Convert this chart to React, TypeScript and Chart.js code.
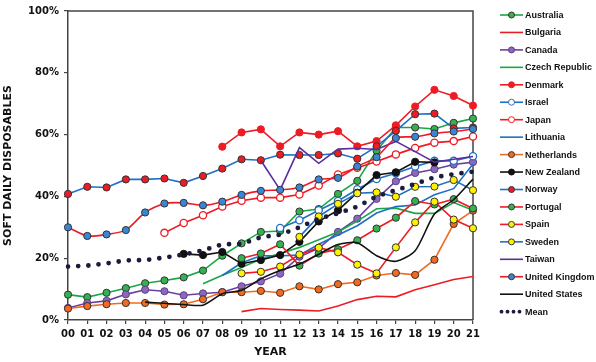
import React, { useEffect, useRef } from 'react';
import { Chart, registerables } from 'chart.js';

Chart.register(...registerables);

const years = ['00','01','02','03','04','05','06','07','08','09','10','11','12','13','14','15','16','17','18','19','20','21'];
const yTicks = [0, 20, 40, 60, 80, 100];

const N = null;
const australia = [8.2, 7.4, 8.8, 10.3, 11.9, 12.8, 13.8, 16, 20.8, 24.8, 28.5, 28.8, 35.1, 35.9, 40.8, 45, 54.8, 62.3, 62.3, 61.8, 63.8, 65.2];
const bulgaria = [N, N, N, N, N, N, N, N, N, 2.7, 3.7, 3.4, 3.2, 2.9, 4.5, 6.6, 7.7, 7.5, 9.8, 11.4, 13.1, 14.1];
const canada = [3.9, 5.5, 6.2, 8.3, 9.8, 9.3, 8, 8.6, 9, 10.9, 12.5, 15, 20.5, 23.2, 28.5, 32.8, 39.2, 44.9, 47.6, 48.8, 50.3, 51.1];
const czech = [N, N, N, N, N, N, N, 11.7, 14.5, 17, 19.7, 21.5, 23.5, 26, 28.5, 32, 36, 36.2, 34.5, 34.5, 38, 35.5];
const denmark = [N, N, N, N, N, N, N, N, 56.1, 60.7, 61.7, 56.2, 60.7, 60, 61.1, 56.2, 57.9, 63, 69.1, 74.5, 72.5, 69.4];
const israel = [N, N, N, N, N, N, N, N, N, N, N, 29.8, 32.3, 35.5, 38.5, 42.3, 45.6, 47.5, 49.7, 51.5, 51.5, 53];
const japan = [N, N, N, N, N, 28.2, 31.4, 33.9, 36.7, 38.6, 39.6, 39.6, 40.6, 43.5, 47.1, 49.3, 51.3, 53.6, 55.7, 57.4, 57.9, 59.4];
const lithuania = [N, N, N, N, N, N, N, N, 14.4, 18.5, 20.8, 20.8, 21, 24.5, 27.5, 30.5, 34.6, 36.7, 37.2, 40.5, 42.5, 50.5];
const netherlands = [3.7, 4.5, 5.1, 5.5, 5.5, 5, 5.1, 6.7, 9, 9, 9.4, 8.8, 10.9, 9.9, 11.6, 12.2, 14.4, 15.2, 14.6, 19.5, 31.1, 35.4];
const newZealand = [N, N, N, N, N, N, 21.4, 21, 22, 18.2, 19.4, 21, 25.3, 31.9, 35.5, 41.2, 46.9, 47.8, 51.2, 51, N, N];
const norway = [40.8, 43.1, 42.9, 45.5, 45.5, 45.8, 44.4, 46.6, 49, 52, 51.7, 53.5, 53.4, 53.4, 53.9, 52.2, 56.2, 61.2, 66.6, 66.8, 62, 62.3];
const portugal = [N, N, N, N, N, N, N, N, N, 20, 21.5, 24.5, 17.6, 21.5, 22.9, 25.8, 29.6, 33.1, 38.5, 37.4, 39.1, 36.1];
const spain = [N, N, N, N, N, N, N, N, N, 15.1, 15.6, 17.3, 21.2, 23.4, 21.9, 17.9, 15.1, 23.5, 31.6, 38.3, 32.5, 29.7];
const sweden = [N, N, N, N, N, N, N, N, N, N, N, N, 26.9, 33.5, 37.6, 41, 41.3, 39.9, 43.1, 43.2, 45.3, 42];
const taiwan = [N, N, N, N, N, N, N, N, N, N, 51.6, 42.1, 55.8, 50.7, 55.3, 55.6, 55.2, 57.8, 54.5, 51.1, 52, 52.9];
const unitedKingdom = [30, 27.2, 27.7, 29.1, 34.8, 37.7, 37.9, 37.1, 38.3, 40.5, 41.8, 42.1, 42.9, 45.5, 46, 49.7, 52.7, 58.9, 59.3, 60.4, 61, 61.8];
const unitedStates = [N, N, N, N, 5.8, 5.4, 5, 4.8, 8.5, 9.6, 13.3, 16, 18.1, 21.3, 24.4, 25, 20.8, 19, 22.4, 34.3, 39, 45.6];
const mean = [17.3, 17.6, 18.3, 19.3, 19.4, 20.2, 21.2, 22.5, 24.5, 24.6, 26.8, 27.6, 30, 32.8, 34.5, 36.7, 40, 42, 44, 46.2, 47.2, 48];

const RED = '#ed1c24';
const GREEN_LINE = '#17a844';
const GREEN_FILL = '#33b34f';
const BLUE = '#1f6fc5';
const BLUE_FILL = '#3a86d6';
const PURPLE_LINE = '#6b3fa0';
const PURPLE_FILL = '#8b68bb';
const TAIWAN = '#5c2d9b';
const ORANGE = '#f26a21';
const YELLOW = '#fff200';
const BLACK = '#111111';
const MEAN = '#1d1b3a';
const EDGE = '#333333';
const WHITE = '#ffffff';

type Spec = { label: string; data: (number | null)[]; line: string; fill?: string; edge?: string; dots?: boolean; tension?: number };

const specs: Spec[] = [
  { label: 'Australia', data: australia, line: GREEN_LINE, fill: GREEN_FILL, edge: EDGE },
  { label: 'Bulgaria', data: bulgaria, line: RED },
  { label: 'Canada', data: canada, line: PURPLE_LINE, fill: PURPLE_FILL, edge: '#5a3d85' },
  { label: 'Czech Republic', data: czech, line: GREEN_LINE },
  { label: 'Denmark', data: denmark, line: RED, fill: RED, edge: RED },
  { label: 'Israel', data: israel, line: BLUE, fill: WHITE, edge: BLUE },
  { label: 'Japan', data: japan, line: RED, fill: WHITE, edge: RED },
  { label: 'Lithuania', data: lithuania, line: BLUE },
  { label: 'Netherlands', data: netherlands, line: ORANGE, fill: ORANGE, edge: EDGE },
  { label: 'New Zealand', data: newZealand, line: BLACK, fill: BLACK, edge: BLACK },
  { label: 'Norway', data: norway, line: BLUE, fill: RED, edge: EDGE },
  { label: 'Portugal', data: portugal, line: RED, fill: GREEN_FILL, edge: EDGE },
  { label: 'Spain', data: spain, line: RED, fill: YELLOW, edge: EDGE },
  { label: 'Sweden', data: sweden, line: BLUE, fill: YELLOW, edge: EDGE },
  { label: 'Taiwan', data: taiwan, line: TAIWAN },
  { label: 'United Kingdom', data: unitedKingdom, line: RED, fill: BLUE_FILL, edge: EDGE, tension: 0.25 },
  { label: 'United States', data: unitedStates, line: BLACK, tension: 0.25 },
  { label: 'Mean', data: mean, line: MEAN, dots: true },
];

const BOLD_FONT = '"DejaVu Sans", Verdana, sans-serif';

const frame = {
  id: 'frame',
  beforeDatasetsDraw(chart: any) {
    const { ctx, chartArea: a } = chart;
    ctx.save();
    ctx.strokeStyle = '#444';
    ctx.lineWidth = 1.5;
    ctx.beginPath();
    ctx.moveTo(a.left, a.top);
    ctx.lineTo(a.right, a.top);
    ctx.lineTo(a.right, a.bottom);
    ctx.stroke();
    ctx.restore();
  },
};

const legendPlugin = {
  id: 'sideLegend',
  afterDraw(chart: any) {
    const ctx = chart.ctx;
    ctx.save();
    const x0 = 500, x1 = 523, mx = 511.5, tx = 525;
    const y0 = 15, dy = 17.45;
    specs.forEach((s, i) => {
      const y = y0 + i * dy;
      if (s.dots) {
        ctx.fillStyle = MEAN;
        [501.5, 507.5, 513.5, 519.5].forEach((dx) => {
          ctx.beginPath();
          ctx.arc(dx, y, 1.9, 0, Math.PI * 2);
          ctx.fill();
        });
      } else {
        ctx.strokeStyle = s.line;
        ctx.lineWidth = 1.6;
        ctx.beginPath();
        ctx.moveTo(x0, y);
        ctx.lineTo(x1, y);
        ctx.stroke();
        if (s.fill) {
          ctx.beginPath();
          ctx.arc(mx, y, 3, 0, Math.PI * 2);
          ctx.fillStyle = s.fill;
          ctx.fill();
          ctx.lineWidth = 1;
          ctx.strokeStyle = s.edge || EDGE;
          ctx.stroke();
        }
      }
      ctx.fillStyle = '#111';
      ctx.font = 'bold 9px "Liberation Sans", Arial, sans-serif';
      ctx.textBaseline = 'middle';
      ctx.textAlign = 'left';
      ctx.fillText(s.label, tx, y + 0.5);
    });
    ctx.restore();
  },
};

export default function App() {
  const ref = useRef<HTMLCanvasElement | null>(null);

  useEffect(() => {
    if (!ref.current) return;
    const n = specs.length;
    const datasets = specs.map((s, i) => {
      if (s.dots) {
        return {
          label: s.label,
          data: s.data,
          borderColor: MEAN,
          borderWidth: 4.8,
          borderDash: [0, 10.2],
          borderCapStyle: 'round',
          pointRadius: 0,
          fill: false,
          order: n - i,
        };
      }
      return {
        label: s.label,
        data: s.data,
        borderColor: s.line,
        borderWidth: 1.6,
        tension: s.tension || 0,
        pointRadius: s.fill ? 3.6 : 0,
        pointBackgroundColor: s.fill || s.line,
        pointBorderColor: s.edge || EDGE,
        pointBorderWidth: s.fill === WHITE ? 1.3 : 1,
        fill: false,
        spanGaps: false,
        order: n - i,
      };
    });

    const chart = new Chart(ref.current, {
      type: 'line',
      data: { labels: years, datasets: datasets as any },
      options: {
        animation: false,
        responsive: false,
        maintainAspectRatio: false,
        layout: { padding: { left: 0, top: 7, right: 123, bottom: 0 } },
        plugins: { legend: { display: false }, tooltip: { enabled: false } },
        scales: {
          x: {
            type: 'category',
            offset: false,
            grid: { display: true, drawOnChartArea: false, drawTicks: true, tickLength: 4, color: '#444', lineWidth: 1.2 },
            border: { display: true, color: '#444', width: 1.5 },
            ticks: {
              autoSkip: false,
              maxRotation: 0,
              padding: 4,
              color: '#111',
              font: { family: BOLD_FONT, weight: 'bold', size: 10 },
            },
            title: {
              display: true,
              text: 'YEAR',
              color: '#111',
              font: { family: BOLD_FONT, weight: 'bold', size: 11 },
              padding: { top: 0, bottom: 3 },
            },
            afterFit: (s: any) => { s.height = 42; },
          },
          y: {
            min: 0,
            max: 100,
            grid: { display: true, drawOnChartArea: false, drawTicks: true, tickLength: 4, color: '#444', lineWidth: 1.2 },
            border: { display: true, color: '#444', width: 1.5 },
            afterBuildTicks: (s: any) => { s.ticks = yTicks.map((v) => ({ value: v })); },
            ticks: {
              padding: 5,
              color: '#111',
              font: { family: BOLD_FONT, weight: 'bold', size: 10 },
              callback: (v: any) => `${v}%`,
            },
            title: {
              display: true,
              text: 'SOFT DAILY DISPOSABLES',
              color: '#111',
              font: { family: BOLD_FONT, weight: 'bold', size: 11 },
              padding: { top: 2, bottom: 0 },
            },
            afterFit: (s: any) => { s.width = 68; },
          },
        },
      } as any,
      plugins: [frame, legendPlugin],
    });
    return () => chart.destroy();
  }, []);

  return (
    <div style={{ position: 'fixed', left: 0, top: 0, width: 596, height: 362, background: '#fff' }}>
      <canvas ref={ref} width={596} height={362} style={{ width: 596, height: 362, display: 'block' }} />
    </div>
  );
}
